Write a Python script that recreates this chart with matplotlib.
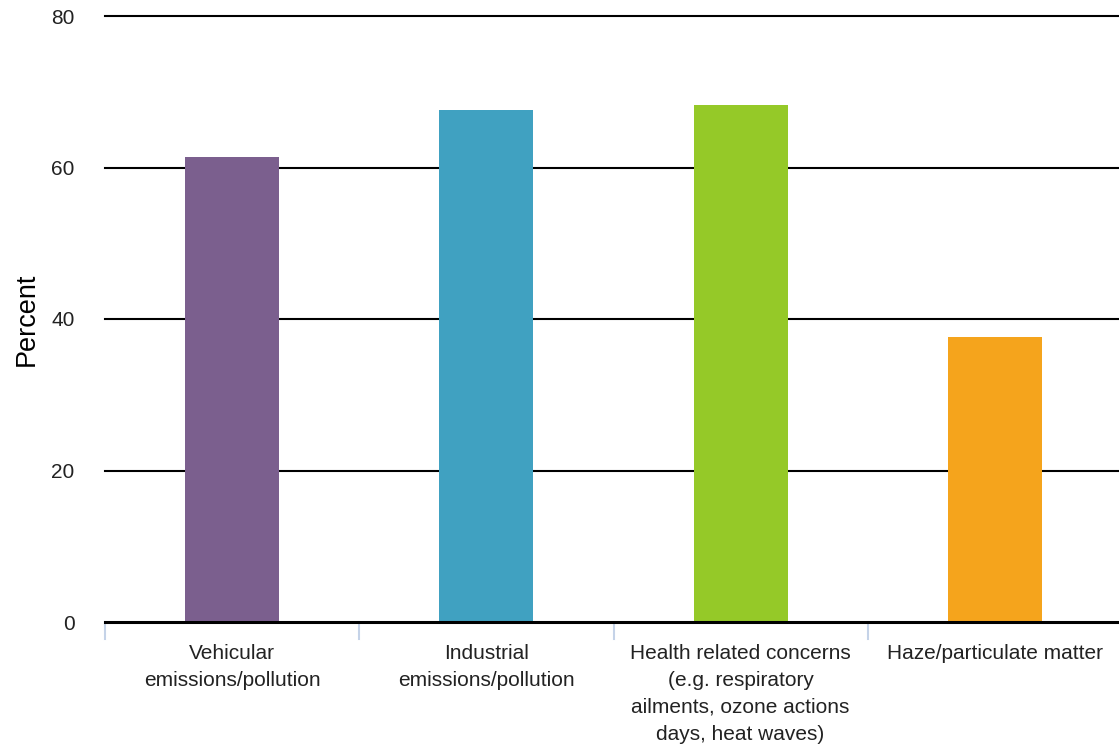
import matplotlib
matplotlib.use("Agg")
import matplotlib.pyplot as plt

plt.rcParams['font.family'] = ['Liberation Sans', 'DejaVu Sans']

categories = ["Vehicular\nemissions/pollution",
              "Industrial\nemissions/pollution",
              "Health related concerns\n(e.g. respiratory\nailments, ozone actions\ndays, heat waves)",
              "Haze/particulate matter"]
values = [61.4, 67.6, 68.2, 37.6]
colors = ["#7B5F8E", "#40A1C1", "#95C928", "#F5A41C"]
yticks = [0, 20, 40, 60, 80]

fig = plt.figure(figsize=(11.19, 7.46), dpi=100)
ax = fig.add_axes([105/1119, 124/746, (1122 - 105)/1119, (622-16)/746])

x = list(range(len(categories)))
ax.bar(x, values, width=0.37, color=colors, zorder=3)
ax.set_xlim(-0.5, len(categories) - 0.5)
ax.set_ylim(0, 80)

for y in yticks[1:]:
    ax.axhline(y, color="black", lw=1.5, zorder=2, clip_on=False)
ax.axhline(0, color="black", lw=2.2, zorder=4, clip_on=False)

ax.set_yticks(yticks)
ax.set_yticklabels([str(v) for v in yticks], fontsize=15, color="#222222")
ax.tick_params(axis='y', length=0, pad=22)

ax.set_xticks(x)
ax.set_xticklabels(categories, fontsize=15, color="#222222", linespacing=1.52)
ax.tick_params(axis='x', length=0, pad=16)
for b in [-0.5, 0.5, 1.5, 2.5]:
    ax.plot([b, b], [0, -2.2], color="#C5D3E8", lw=1.5, clip_on=False, zorder=1)

for s in ax.spines.values():
    s.set_visible(False)

ax.set_ylabel("Percent", fontsize=19.5, labelpad=8)

fig.savefig("out.png", dpi=100)
